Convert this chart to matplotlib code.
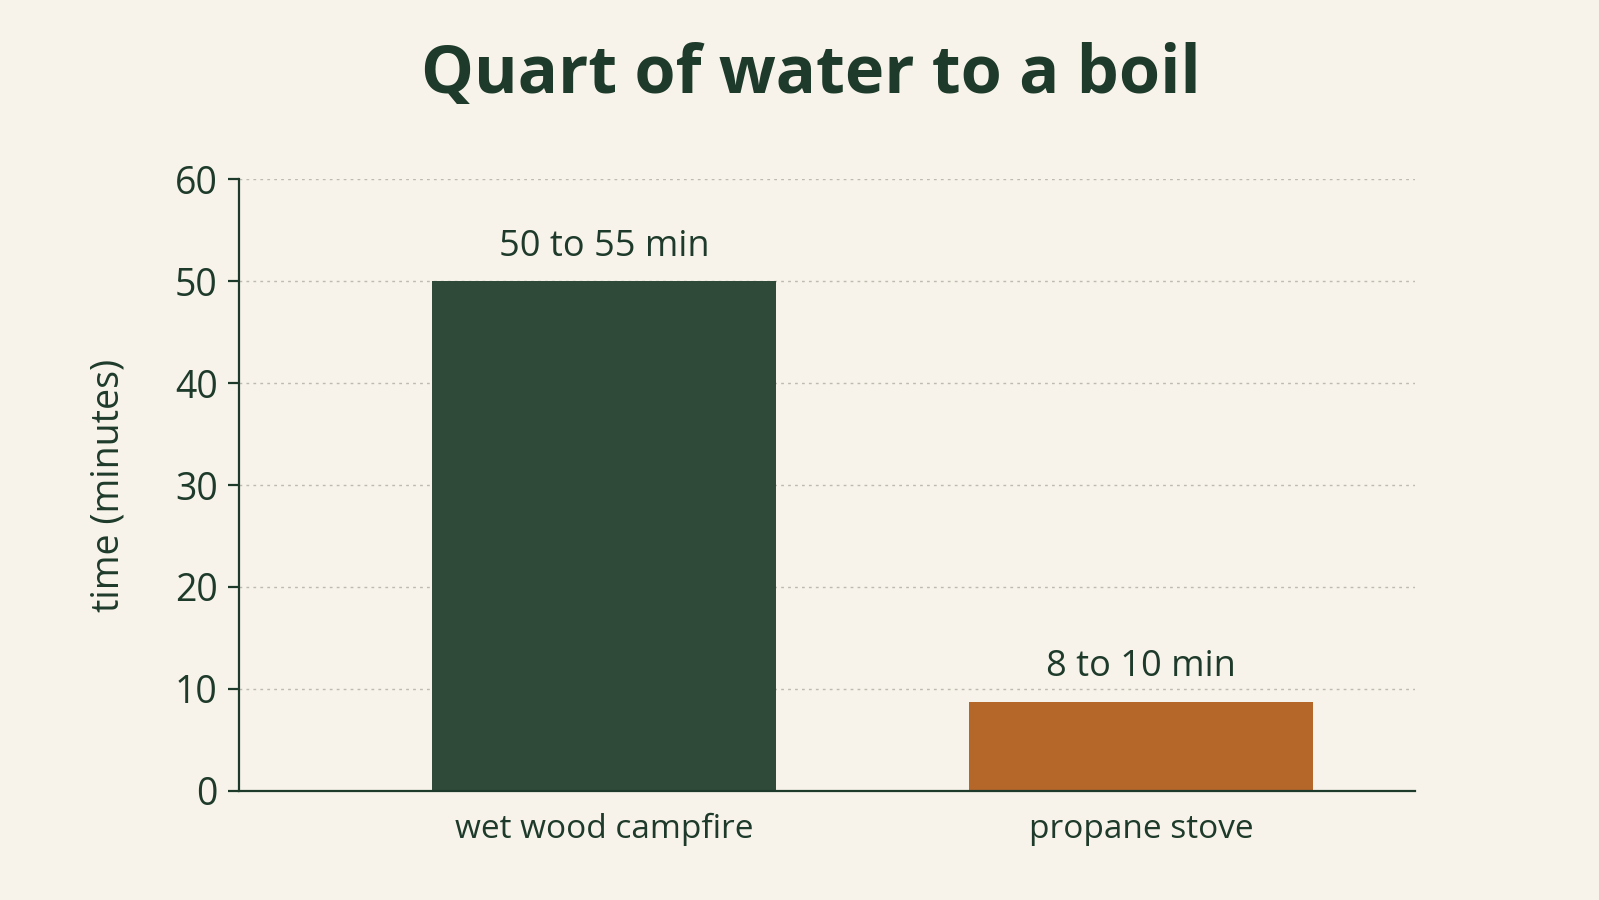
import matplotlib.pyplot as plt

categories = ["wet wood campfire", "propane stove"]
values = [50, 8.7]
bar_labels = ["50 to 55 min", "8 to 10 min"]
yticks = [0, 10, 20, 30, 40, 50, 60]

bg = "#F7F3EA"
ink = "#1E3A2A"
colors = ["#2F4A38", "#B5672A"]

plt.rcParams['font.family'] = ['Open Sans', 'DejaVu Sans']

fig = plt.figure(figsize=(15.99, 9), dpi=100, facecolor=bg)
ax = fig.add_axes([0.1492, 0.1214, 0.736, 0.6792])
ax.set_facecolor(bg)

x = range(len(categories))
bars = ax.bar(x, values, width=0.64, color=colors, zorder=2)

for b, lab in zip(bars, bar_labels):
    ax.annotate(lab, (b.get_x() + b.get_width() / 2, b.get_height()),
                xytext=(0, 12), textcoords="offset points",
                ha="center", va="bottom", fontsize=26, color=ink)

ax.set_xlim(-0.68, 1.51)
ax.set_ylim(0, 60)
ax.set_yticks(yticks)
ax.set_xticks(list(x))
ax.set_xticklabels(categories)

for t in yticks[1:]:
    ax.axhline(t, color="#BDBAB0", linestyle=(0, (2, 3)), linewidth=1.0, zorder=1)

for s in ["top", "right"]:
    ax.spines[s].set_visible(False)
ax.spines["left"].set_color(ink)
ax.spines["bottom"].set_color(ink)
ax.spines["left"].set_linewidth(1.6)
ax.spines["bottom"].set_linewidth(1.6)

ax.tick_params(axis="y", length=8, width=1.6, color=ink, labelcolor=ink,
               labelsize=27, pad=7)
ax.tick_params(axis="x", length=0, labelcolor=ink, labelsize=24, pad=16)

ax.set_ylabel("time (minutes)", fontsize=27, color=ink, labelpad=34)

fig.text(0.507, 0.916, "Quart of water to a boil", ha="center", va="center",
         fontsize=48, fontweight="bold", color=ink)

fig.savefig("out.png", dpi=100, facecolor=bg)
